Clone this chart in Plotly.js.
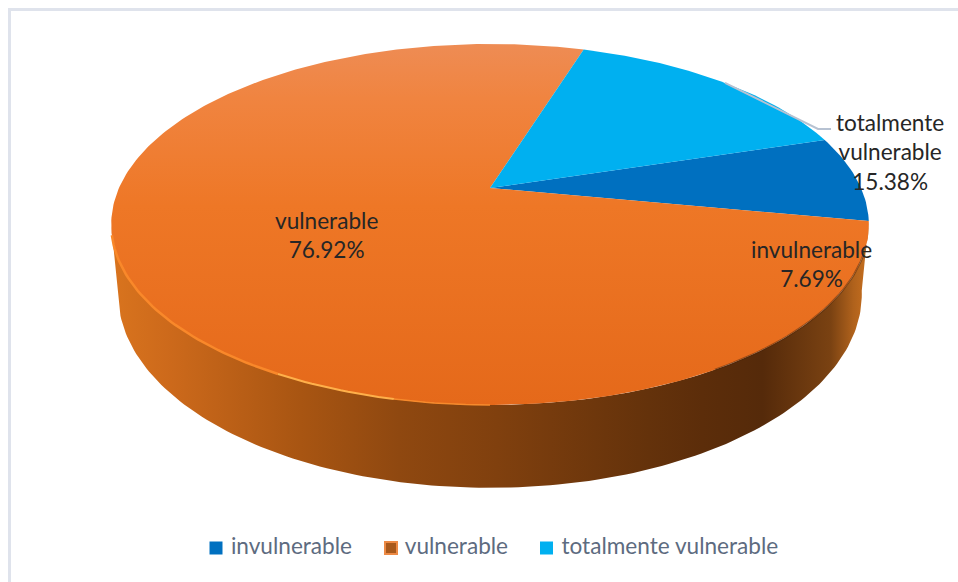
<!DOCTYPE html>
<html>
<head>
<meta charset="utf-8">
<script src="https://cdn.plot.ly/plotly-3.0.1.min.js"></script>
<style>html,body{margin:0;padding:0;background:#fff}#chart{width:958px;height:582px}</style>
</head>
<body>
<div id="chart"></div>
<script>
// Share of each vulnerability class
const categories = ['invulnerable', 'vulnerable', 'totalmente vulnerable'];
const shares = [7.69, 76.92, 15.38];
const sliceColors = ['#0070c0', '#e96f1e', '#00b0f0'];
const firstSliceAngle = 72.9;

// Tilted disc: perspective projection of the pie top and the base rim
const top3d = {cx: 490, cy: 188, a: 173.1, b: 371, k: 0.202};
const base = {cx: 490, cy: 295, rx: 372, ry: 194};
const leftmostAngle = 258.2;

function topPoint(deg, r) {
  const t = deg * Math.PI / 180, rr = r === undefined ? 1 : r;
  const u = rr * Math.sin(t), v = rr * Math.cos(t), w = 1 + top3d.k * v;
  return [top3d.cx + top3d.b * u / w, top3d.cy - top3d.a * v / w];
}
// The base rim shares the angle of the silhouette it is extruded from
function basePoint(deg) {
  const p = topPoint(deg);
  const ex = (p[0] - top3d.cx) / 379, ey = (p[1] - 225) / 181;
  return [base.cx + base.rx * ex, base.cy + base.ry * ey];
}

function arc(fn, from, to, step) {
  const pts = [], n = Math.max(2, Math.ceil(Math.abs(to - from) / (step || 1)));
  for (let i = 0; i <= n; i++) pts.push(fn(from + (to - from) * i / n));
  return pts;
}
const xs = p => p.map(q => q[0]);
const ys = p => p.map(q => q[1]);

// Slice boundaries from the shares
const total = shares.reduce((s, v) => s + v, 0);
const bounds = [firstSliceAngle];
shares.forEach(v => bounds.push(bounds[bounds.length - 1] + v / total * 360));

const traces = [];

// Side wall of the orange slice, front half of the disc
const wallTop = arc(topPoint, bounds[1], leftmostAngle);
const wallBase = arc(basePoint, bounds[1], leftmostAngle);
const wall = wallTop.concat(wallBase.reverse());
traces.push({
  x: xs(wall), y: ys(wall), mode: 'lines', line: {width: 0}, fill: 'toself',
  fillgradient: {type: 'horizontal', colorscale: [
    [0, '#d9741e'], [0.08, '#cc691b'], [0.25, '#a85512'], [0.38, '#8f4810'],
    [0.51, '#80400e'], [0.71, '#64320b'], [0.78, '#5c2d0a'], [0.86, '#552a0a'],
    [0.95, '#7a4212'], [0.98, '#b0621c'], [1, '#c8701f']
  ]},
  hoverinfo: 'skip', showlegend: false
});

// Top faces
shares.forEach((v, i) => {
  const rim = arc(topPoint, bounds[i], bounds[i + 1]);
  const poly = [topPoint(0, 0)].concat(rim);
  const tr = {
    x: xs(poly), y: ys(poly), mode: 'lines', line: {width: 0}, fill: 'toself',
    fillcolor: sliceColors[i], hoverinfo: 'skip', showlegend: false
  };
  if (i === 1) {
    tr.fillgradient = {type: 'vertical', colorscale: [
      [0, '#e5691a'], [0.55, '#ee7726'], [0.85, '#f08440'], [1, '#ee8c54']
    ]};
  }
  traces.push(tr);
});

// Rim lighting: bright on the front left, shaded on the front right
const rimSegments = [
  {from: 255, to: 208, color: '#f9882a', width: 2.5},
  {from: 208, to: 192, color: '#ffb04a', width: 2},
  {from: 192, to: 180, color: '#f78a2c', width: 1.5},
  {from: 108, to: 150, color: 'rgba(70,35,8,0.45)', width: 2}
];
rimSegments.forEach(s => {
  const pts = arc(topPoint, s.from, s.to);
  traces.push({x: xs(pts), y: ys(pts), mode: 'lines',
    line: {color: s.color, width: s.width}, hoverinfo: 'skip', showlegend: false});
});

// Legend row: a swatch and its name per category
const legendFont = {family: 'Lato, "Open Sans", sans-serif', size: 22.6, color: '#5d6b80'};
const legendX = [216, 391, 546.5];
const legendY = 548;
categories.forEach((c, i) => {
  traces.push({
    x: [legendX[i]], y: [legendY], mode: 'markers+text', text: [' ' + c],
    textposition: 'middle right', textfont: legendFont, cliponaxis: false,
    marker: {symbol: 'square', size: i === 1 ? 12 : 13, color: i === 1 ? '#a8591c' : sliceColors[i],
      line: {color: i === 1 ? '#ed8a45' : sliceColors[i], width: i === 1 ? 2 : 0}},
    hoverinfo: 'skip', showlegend: false
  });
});

// Leader line from the middle of the light-blue slice to its label
const leaderStart = topPoint((bounds[2] + bounds[3]) / 2 - 360 + 1, 1);

const labelFont = {family: 'Lato, "Open Sans", sans-serif', size: 22.6, color: '#262626'};
const label = (x, y, text) => ({x, y, text, xref: 'x', yref: 'y', showarrow: false,
  align: 'center', font: labelFont, xanchor: 'center', yanchor: 'middle'});

const layout = {
  width: 958, height: 582, margin: {l: 0, r: 0, t: 0, b: 0},
  paper_bgcolor: '#ffffff', plot_bgcolor: '#ffffff',
  xaxis: {range: [0, 958], visible: false, fixedrange: true},
  yaxis: {range: [582, 0], visible: false, fixedrange: true},
  showlegend: false,
  shapes: [
    {type: 'rect', xref: 'x', yref: 'y', x0: 9.5, y0: 9.5, x1: 1000, y1: 600,
      line: {color: '#dfe3ec', width: 3}, layer: 'below'},
    {type: 'path', xref: 'x', yref: 'y',
      path: `M${leaderStart[0]},${leaderStart[1]} L818,129 L831,129`,
      line: {color: '#b7c2d2', width: 2}}
  ],
  annotations: [
    label(890, 152, `${categories[2].split(' ')[0]}<br>${categories[2].split(' ')[1]}<br>${shares[2].toFixed(2)}%`),
    label(326, 235, `${categories[1]}<br>${shares[1].toFixed(2)}%`),
    label(811, 264, `${categories[0]}<br>${shares[0].toFixed(2)}%`)
  ]
};

Plotly.newPlot('chart', traces, layout, {displayModeBar: false, staticPlot: true});
</script>
</body>
</html>
